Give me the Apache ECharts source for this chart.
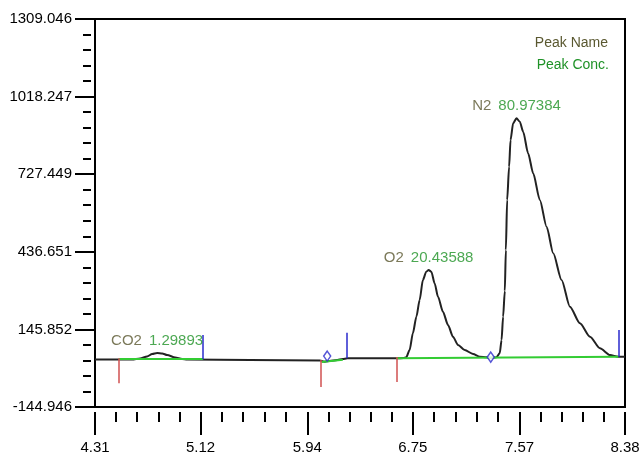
<!DOCTYPE html>
<html><head><meta charset="utf-8">
<script src="https://cdn.jsdelivr.net/npm/echarts@6/dist/echarts.min.js"></script>
<style>html,body{margin:0;padding:0;background:#fff}#c{width:643px;height:457px}</style>
</head><body><div id="c"></div>
<script>
// ---- data ----
const timeTicks = ['4.31','5.12','5.94','6.75','7.57','8.38'];
const signalTicks = ['-144.946','145.852','436.651','727.449','1018.247','1309.046'];

const traceTime = [4.310,4.595,4.656,4.710,4.749,4.787,4.826,4.864,4.926,4.979,5.018,5.500,6.041,6.060,6.075,6.110,6.172,6.210,6.249,6.626,6.680,6.700,6.726,6.751,6.778,6.803,6.828,6.854,6.872,6.893,6.918,6.944,6.982,7.021,7.059,7.098,7.149,7.213,7.265,7.316,7.349,7.393,7.418,7.432,7.444,7.457,7.465,7.475,7.490,7.501,7.521,7.547,7.572,7.598,7.636,7.675,7.726,7.778,7.829,7.893,7.957,8.034,8.111,8.188,8.265,8.329,8.380];
const traceSignal = [33,33,36.8,44.3,53.7,57.4,55.6,49.9,40.5,34.5,33,31,29.5,26,25,27.4,31,34.9,37.5,37.5,38.7,41.3,68.6,131.2,193.5,256.0,331.0,362.0,368.4,362.0,318.6,268.4,212.1,162.3,118.5,87.4,68.6,53.7,43.6,41.3,39.4,41.3,56.3,106.1,193.5,290,443.4,630.8,755.6,855.6,918.2,936.9,924.2,886.7,805.8,730.8,630.8,530.7,431.0,331.0,230.9,168.7,118.5,75.0,49.9,43.6,43];

const peakNames = ['CO2','O2','N2'];
const peakConcs = ['1.29893','20.43588','80.97384'];
const peakApexTime = [4.787,6.872,7.547];
const peakApexSignal = [57.4,368.4,936.9];

const startMarkTime = [4.495,6.047,6.624];
const startMarkTop = [38,31,42];
const startMarkBottom = [-56,-70,-51];

const endMarkTime = [5.141,6.247,8.329];
const endMarkBottom = [34,37.5,43.6];
const endMarkTop = [125,133,144];

const valleyTime = [6.093,7.349];
const valleySignal = [46,42];

const baseStartTime = [4.495,6.049,6.624];
const baseStartSignal = [34,23.7,37.5];
const baseEndTime = [5.141,6.213,8.329];
const baseEndSignal = [34,32.3,43.6];

// ---- build ----
const FONT = "'Liberation Sans', Arial, sans-serif";
const OLIVE = '#5a5830', GREEN = '#1f9227';
const tNum = timeTicks.map(Number), sNum = signalTicks.map(Number);
function minors(arr){const out=[];for(let i=0;i<arr.length-1;i++){for(let k=1;k<5;k++)out.push(arr[i]+(arr[i+1]-arr[i])*k/5);}return out;}
const tMin = tNum[0], tMax = tNum[tNum.length-1], sMin = sNum[0], sMax = sNum[sNum.length-1];

const trace = traceTime.map((t,i)=>[t,traceSignal[i]]);
const apex = peakApexTime.map((t,i)=>({value:[t,peakApexSignal[i]], name:peakNames[i], conc:peakConcs[i]}));
const redLines = startMarkTime.map((t,i)=>({coords:[[t,startMarkTop[i]],[t,startMarkBottom[i]]]}));
const blueLines = endMarkTime.map((t,i)=>({coords:[[t,endMarkBottom[i]],[t,endMarkTop[i]]]}));
const greenLines = baseStartTime.map((t,i)=>({coords:[[t,baseStartSignal[i]],[baseEndTime[i],baseEndSignal[i]]]}));
const valleys = valleyTime.map((t,i)=>[t,valleySignal[i]]);

const chart = echarts.init(document.getElementById('c'), null, {renderer:'canvas'});
const xBase = {type:'value', min:tMin, max:tMax, splitLine:{show:false}, axisLine:{show:false, onZero:false}, position:'bottom'};
const yBase = {type:'value', min:sMin, max:sMax, splitLine:{show:false}, axisLine:{show:false, onZero:false}, position:'left'};
chart.setOption({
  animation:false,
  backgroundColor:'#fff',
  grid:{left:95, right:18, top:19, bottom:50, show:true, borderColor:'#000', borderWidth:2, backgroundColor:'transparent'},
  xAxis:[
    Object.assign({}, xBase, {offset:5,
      axisTick:{show:true, length:23, lineStyle:{color:'#000', width:2}, customValues:tNum},
      axisLabel:{show:true, margin:28, color:'#000', fontFamily:FONT, fontSize:15, customValues:tNum,
        formatter:v=>{const s=timeTicks.find(x=>Math.abs(+x-v)<1e-6);return s!==undefined?s:v.toFixed(2);}}}),
    Object.assign({}, xBase, {offset:5,
      axisTick:{show:true, length:10, lineStyle:{color:'#000', width:2}, customValues:minors(tNum)},
      axisLabel:{show:false}})
  ],
  yAxis:[
    Object.assign({}, yBase, {offset:0,
      axisTick:{show:true, length:20, lineStyle:{color:'#000', width:2}, customValues:sNum},
      axisLabel:{show:true, margin:23, color:'#000', fontFamily:FONT, fontSize:15, customValues:sNum,
        formatter:v=>{const s=signalTicks.find(x=>Math.abs(+x-v)<1e-6);return s!==undefined?s:v.toFixed(3);}}}),
    Object.assign({}, yBase, {offset:4,
      axisTick:{show:true, length:8, lineStyle:{color:'#000', width:2}, customValues:minors(sNum)},
      axisLabel:{show:false}})
  ],
  graphic:[
    {type:'text', right:35, top:36, style:{text:'Peak Name', fill:OLIVE, font:'14px '+FONT}},
    {type:'text', right:34, top:58, style:{text:'Peak Conc.', fill:GREEN, font:'14px '+FONT}}
  ],
  series:[
    {type:'line', data:trace, showSymbol:false, smooth:0.25, smoothMonotone:'x', z:3,
      lineStyle:{color:'#222', width:2}, silent:true},
    {type:'lines', coordinateSystem:'cartesian2d', data:greenLines, z:4,
      lineStyle:{color:'#33cc33', width:2, opacity:1}, silent:true},
    {type:'lines', coordinateSystem:'cartesian2d', data:redLines, z:5,
      lineStyle:{color:'#d05050', width:1.5, opacity:1}, silent:true},
    {type:'lines', coordinateSystem:'cartesian2d', data:blueLines, z:5,
      lineStyle:{color:'#2a2acc', width:1.5, opacity:1}, silent:true},
    {type:'scatter', data:valleys, symbol:'diamond', symbolSize:[7,10], z:6,
      itemStyle:{color:'#fff', borderColor:'#2a2acc', borderWidth:1.5}, silent:true},
    {type:'scatter', data:apex, symbolSize:0, z:7, silent:true,
      label:{show:true, position:'top', distance:5, fontFamily:FONT,
        formatter:p=>'{n|'+p.data.name+'}{c|'+p.data.conc+'}',
        rich:{n:{color:OLIVE, fontSize:15, fontFamily:FONT, padding:[0,7,0,0]},
              c:{color:GREEN, fontSize:15, fontFamily:FONT}}}}
  ]
});
</script>
</body></html>
